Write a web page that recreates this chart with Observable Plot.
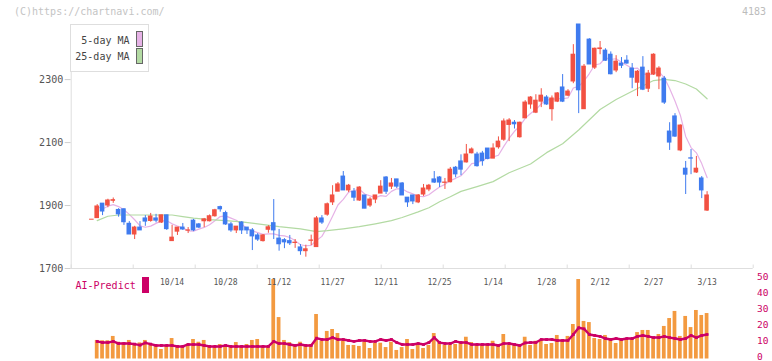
<!DOCTYPE html>
<html><head><meta charset="utf-8">
<script src="https://cdn.jsdelivr.net/npm/d3@7"></script>
<script src="https://cdn.jsdelivr.net/npm/@observablehq/plot@0.6"></script>
<style>
body{margin:0;background:#fff}
#wrap{position:relative;width:772px;height:361px;overflow:hidden;background:#fff;font-family:"DejaVu Sans Mono",monospace}
.abs{position:absolute;white-space:nowrap}
#wrap svg{position:absolute;left:0}
#main g[aria-label="y-axis tick"]{stroke:#cfcfcf}
</style>
</head><body><div id="wrap"></div>
<script>
// ---- data (index 0 = first trading day shown) ----
const opens  = [1855,1860,1906,1900,1915,1886,1888,1842,1808,1830,1859,1851,1859,1846,1869,1787,1817,1830,1820,1852,1840,1850,1850,1866,1895,1876,1840,1821,1846,1830,1821,1805,1787,1823,1844,1795,1790,1787,1781,1767,1755,1788,1768,1859,1871,1910,1944,1992,1948,1944,1916,1932,1900,1919,1938,1989,1960,1983,1970,1925,1932,1910,1935,1951,1983,1989,1972,1974,2020,2040,2037,2066,2062,2065,2081,2049,2085,2109,2156,2163,2117,2177,2221,2195,2230,2243,2206,2230,2275,2249,2294,2475,2206,2427,2338,2397,2392,2379,2329,2351,2360,2335,2290,2338,2271,2316,2310,2303,2135,2183,2075,2017,2050,2005,1986,1884];
const highs  = [1855,1903,1906,1920,1924,1890,1890,1849,1834,1849,1868,1875,1872,1869,1869,1837,1830,1843,1830,1856,1843,1859,1870,1888,1898,1882,1846,1833,1849,1830,1827,1811,1808,1836,1919,1824,1795,1805,1792,1776,1774,1806,1865,1868,1908,1963,1973,2008,1967,1954,1960,1932,1925,1932,1979,1992,1986,1983,1973,1925,1932,1935,1967,1967,2008,1992,1986,2021,2024,2061,2094,2083,2069,2072,2081,2096,2118,2175,2176,2170,2165,2233,2246,2252,2271,2249,2248,2259,2316,2268,2411,2475,2348,2430,2400,2421,2398,2388,2376,2370,2376,2351,2329,2373,2329,2382,2341,2310,2163,2192,2156,2040,2078,2056,1992,1944];
const lows   = [1855,1860,1868,1893,1907,1863,1837,1808,1792,1821,1834,1847,1845,1843,1821,1787,1805,1821,1811,1817,1827,1830,1848,1863,1879,1837,1815,1811,1808,1808,1757,1786,1784,1812,1792,1755,1763,1773,1764,1742,1736,1773,1768,1840,1866,1900,1944,1948,1941,1913,1913,1890,1894,1906,1938,1935,1951,1954,1932,1894,1903,1906,1929,1944,1970,1957,1951,1972,1988,1995,2035,2064,2022,2025,2045,2049,2079,2104,2103,2143,2114,2177,2206,2192,2211,2218,2168,2227,2227,2246,2287,2192,2206,2348,2332,2379,2358,2315,2322,2335,2349,2271,2246,2265,2259,2313,2268,2221,2075,2116,2071,1935,1998,2002,1922,1881];
const closes = [1855,1897,1881,1916,1917,1872,1847,1808,1830,1821,1849,1865,1852,1869,1825,1798,1830,1824,1821,1821,1830,1856,1866,1885,1888,1840,1821,1833,1821,1821,1802,1792,1805,1831,1821,1777,1783,1780,1782,1755,1761,1789,1859,1846,1904,1932,1967,1948,1963,1925,1957,1890,1919,1932,1960,1944,1970,1960,1932,1910,1913,1932,1954,1963,1973,1973,1973,2014,1999,2014,2062,2078,2025,2041,2048,2081,2103,2167,2170,2158,2163,2227,2243,2233,2249,2221,2240,2256,2230,2262,2379,2266,2341,2348,2398,2399,2360,2317,2357,2344,2351,2306,2325,2268,2319,2379,2335,2227,2100,2119,2154,1998,2049,2017,1948,1932];
const volumes = [0,11.5,11.3,11.3,14,10.4,10,11.5,9.2,10,11.5,9.2,7.8,5.9,7.8,12.7,7.8,7.8,9.2,12.1,10.4,11.5,7.8,7.8,9.0,8.1,7.8,10.2,7.8,9,11.5,12.1,7.8,7.8,49.3,25.7,11.5,10.2,7.8,10.4,7.8,9,27.6,11.1,17.1,18.3,15.8,11.1,8.4,8.4,7.8,10.4,6.5,9.8,9.8,7.1,10.4,5.3,7.1,12.1,5.9,8.4,6.5,8.4,15.8,10.2,8.4,8.4,9.0,10.2,13.5,10.2,8.4,8.4,8.4,11,7.8,15.2,8.4,9,7.8,13.5,8.4,11,11.5,9,9.6,14.6,11.5,14,21.4,49.3,23.3,22.6,12.7,12.1,14.6,11.5,9.6,12.7,11.5,12.7,16.4,17.7,17.7,13.3,15.2,20.2,25.1,29.5,14,26.4,19.5,30.1,27,28.2];
const aiPredict = [null,10.9,10.2,10.2,10.9,9.6,9.6,9.6,9.2,8.6,10.0,9.2,8.4,8.4,8.4,8.4,7.8,7.8,9,9,9,8.4,7.8,7.8,7.8,8.4,7.8,7.8,7.8,7.8,7.8,7.8,7.8,7.8,10.9,9.6,9.6,9,8.4,9,8.4,8.4,12.9,12.1,12.1,13.3,12.1,12.1,11.5,10.9,11.5,11.5,10.9,10.9,12.1,11.5,12.1,10.2,9,9,9,9.6,9,10.2,13.3,10.2,9.6,9.6,10.9,10.2,10.2,9,9,9,9,9,8.4,9.6,9.6,9,8.4,10,10.2,10.2,12.1,12.1,12.1,11.5,11.5,11.5,15.2,19.4,18.7,15.2,14.6,14,12.7,12.1,12.7,12.1,12.7,12.7,14,14.6,14,13.3,13.3,14,13.3,12.7,12.1,12.7,14.6,13.3,14.6,15.2];
const ma25Idx = [1,3,5,10,15,17,19,22,25,28,31,35,39,42,44,47,50,53,56,58,61,63,65,67,69,72,75,78,82,85,88,91,95,98,102,105,107,109,111,113,115];
const ma25Val = [1852,1866,1870,1870,1870,1865,1860,1855,1852,1848,1842,1833,1826,1817,1820,1826,1833,1842,1852,1862,1880,1893,1912,1928,1945,1960,1976,2004,2032,2068,2096,2140,2205,2237,2272,2297,2301,2297,2286,2270,2239];
const dateIdx = [15,25,35,45,55,65,75,85,95,105,115];
const dateLabels = ["10/14","10/28","11/12","11/27","12/11","12/25","1/14","1/28","2/12","2/27","3/13"];
const priceTicks = [1700,1900,2100,2300];
const subTicks = [0,10,20,30,40,50];

// ---- styling ----
const RED = "#f25142", BLUE = "#3f7bef", PINK = "#e6b2e6", GREEN = "#b3daa3";
const ORANGE = "#f39a40", CRIMSON = "#cc0066";
const xDomain = [-3.86, 123.62];
const gridTicks = d3.range(12).map(i => xDomain[0] + i * (xDomain[1] - xDomain[0]) / 11);

const data = opens.map((o, k) => ({k, o, h: highs[k], l: lows[k], c: closes[k], v: volumes[k], ai: aiPredict[k]}));
const ma25 = ma25Idx.map((k, i) => ({k, v: ma25Val[i]}));
const col = d => d.c >= d.o ? RED : BLUE;
const baseStyle = {fontFamily: "DejaVu Sans Mono, monospace", fontSize: "10px", background: "transparent", overflow: "visible"};

const main = Plot.plot({
  width: 772, height: 269, marginTop: 24, marginBottom: 1, marginLeft: 70.7, marginRight: 19.3,
  style: {...baseStyle, color: "#555"},
  color: {type: "identity"},
  x: {domain: xDomain, axis: null},
  y: {domain: [1700, 2475], ticks: priceTicks, tickSize: 6, tickPadding: 2, label: null, tickFormat: d => String(d)},
  marks: [
    Plot.ruleY([1700], {stroke: "#dedede"}),
    Plot.ruleX([xDomain[0]], {stroke: "#dedede"}),
    Plot.ruleX(gridTicks, {x: d => d, y1: 1700, y2: 1711, stroke: "#dedede"}),
    Plot.line(data.slice(1), Plot.windowY({k: 5, anchor: "end"}, {x: "k", y: "c", stroke: PINK, strokeWidth: 1.2})),
    Plot.line(ma25, {x: "k", y: "v", stroke: GREEN, strokeWidth: 1.2}),
    Plot.ruleX(data, {x: "k", y1: "l", y2: "h", stroke: col, strokeWidth: 1}),
    Plot.rect(data, {x1: d => d.k - 0.43, x2: d => d.k + 0.43, y1: "o", y2: "c", fill: col, insetTop: -0.5, insetBottom: -0.5})
  ]
});
main.id = "main";
main.style.top = "0px";

const sub = Plot.plot({
  width: 772, height: 93, marginTop: 9.9, marginBottom: 2.5, marginLeft: 70.7, marginRight: 19.3,
  style: {...baseStyle, color: CRIMSON},
  color: {type: "identity"},
  x: {domain: xDomain, axis: null},
  y: {domain: [0, 50], axis: null},
  marks: [
    Plot.rect(data.slice(1), {x1: d => d.k - 0.35, x2: d => d.k + 0.35, y1: 0, y2: "v", fill: ORANGE}),
    Plot.line(data.slice(1), {x: "k", y: "ai", stroke: CRIMSON, strokeWidth: 2.4}),
    Plot.dot(data.slice(1), {x: "k", y: "ai", symbol: "square", r: 1.6, fill: CRIMSON}),
    Plot.axisY(subTicks, {anchor: "right", tickSize: 0, tickPadding: 3.8, dy: -1.8, fontSize: 9.5, fill: CRIMSON, label: null}),
    Plot.text(dateIdx, {x: d => d, text: (d, i) => dateLabels[i], frameAnchor: "top", dy: 4.3, lineAnchor: "middle", fill: "#555", fontSize: 8})
  ]
});
sub.style.top = "268px";

const wrap = document.getElementById("wrap");
wrap.appendChild(main);
wrap.appendChild(sub);

function add(html, css) {
  const d = document.createElement("div");
  d.className = "abs";
  d.innerHTML = html;
  Object.assign(d.style, css);
  wrap.appendChild(d);
}
add("(C)https://chartnavi.com/", {left: "14px", top: "6px", lineHeight: "12px", fontSize: "10px", color: "#c4c4c4"});
add("4183", {left: "700px", width: "66px", textAlign: "right", top: "6px", lineHeight: "12px", fontSize: "10px", color: "#bcbcbc"});
// legend box
add("", {left: "70px", top: "24px", width: "77px", height: "46px", border: "1px solid #dedede", background: "#fff"});
add("5-day MA", {left: "60px", width: "69.5px", textAlign: "right", top: "35px", lineHeight: "12px", fontSize: "10px", color: "#444"});
add("25-day MA", {left: "60px", width: "69.5px", textAlign: "right", top: "50.7px", lineHeight: "12px", fontSize: "10px", color: "#444"});
add("", {left: "136px", top: "31px", width: "5px", height: "14px", border: "1px solid #666", background: PINK});
add("", {left: "136px", top: "48px", width: "5px", height: "14px", border: "1px solid #666", background: GREEN});
// AI-Predict legend
add("AI-Predict", {left: "75.5px", top: "280px", lineHeight: "12px", fontSize: "10px", color: CRIMSON});
add("", {left: "142px", top: "277px", width: "7px", height: "16px", background: CRIMSON});
</script></body></html>
